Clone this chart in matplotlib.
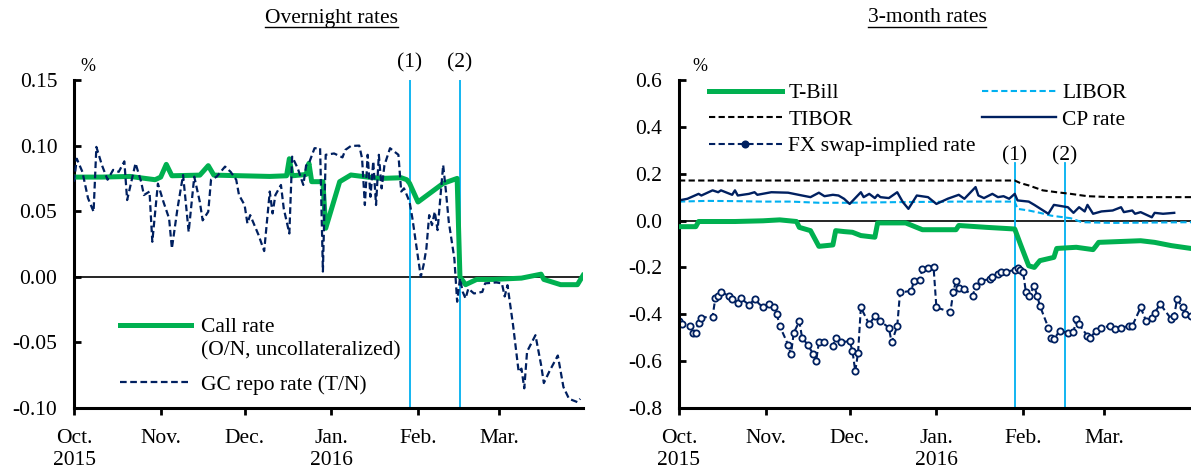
import matplotlib
matplotlib.use("Agg")
import matplotlib.pyplot as plt
from matplotlib.lines import Line2D
import pandas as pd

plt.rcParams['font.family'] = ['Liberation Serif', 'DejaVu Serif']
plt.rcParams['font.size'] = 15.5
plt.rcParams['axes.unicode_minus'] = False

base = pd.Timestamp('2015-10-01')

# ---- Overnight rates (days counted from 2015-10-01) ----
call_days = [0, 10, 20, 29, 31, 33, 35, 45, 48, 50, 60, 70, 76, 77, 78, 83, 84, 85, 89, 90,
             95, 99, 105, 110, 117, 119, 120, 123, 132, 137, 138, 140, 144, 150, 160, 167,
             168, 174, 180, 182]
call_rate = [0.076, 0.076, 0.0765, 0.074, 0.076, 0.0857, 0.077, 0.0775, 0.0847, 0.0775, 0.077,
             0.0765, 0.077, 0.090, 0.077, 0.078, 0.0865, 0.0725, 0.0725, 0.037,
             0.0725, 0.0776, 0.076, 0.075, 0.0755, 0.074, 0.0712, 0.057, 0.0712, 0.075, 0.0,
             -0.006, -0.002, -0.002, -0.001, 0.002, -0.002, -0.006, -0.006, 0.001]

gc_days = [0, 1, 3, 5, 7, 8, 10, 12, 14, 16, 18, 19, 22, 24, 25, 27, 28, 30, 32, 34, 35, 37,
           39, 41, 43, 45, 46, 48, 49, 51, 54, 56, 58, 59, 61, 62, 63, 66, 68, 70, 71, 72, 74,
           75, 77, 78, 80, 82, 83, 84, 86, 88, 89, 90, 93, 96, 97, 99, 102, 103, 104, 105, 106,
           107, 108, 109, 110, 111, 113, 116, 117, 118, 119, 120, 121, 124, 125, 126, 127, 128,
           129, 130, 132, 133, 134, 136, 137, 138, 139, 140, 141, 143, 146, 147, 151, 153, 154,
           155, 157, 159, 160, 161, 162, 165, 167, 168, 170, 173, 175, 177, 180, 181]
gc_repo = [0.0725, 0.09, 0.08, 0.06, 0.0496, 0.099, 0.085, 0.074, 0.0815, 0.08, 0.088, 0.0585,
           0.0865, 0.0725, 0.0623, 0.065, 0.0267, 0.071, 0.057, 0.0445, 0.0216, 0.052, 0.0776,
           0.0343, 0.0763, 0.057, 0.043, 0.0496, 0.074, 0.0763, 0.084, 0.08, 0.074, 0.0623,
           0.0547, 0.0407, 0.047, 0.0318, 0.0196, 0.065, 0.0483, 0.0623, 0.07, 0.052, 0.033,
           0.0916, 0.0827, 0.07, 0.085, 0.0865, 0.098, 0.098, 0.004, 0.093, 0.094, 0.091, 0.0967,
           0.0997, 0.1, 0.0903, 0.0547, 0.093, 0.061, 0.088, 0.0547, 0.093, 0.0674, 0.085, 0.098,
           0.093, 0.065, 0.0674, 0.0623, 0.057, 0.0445, 0.0, 0.009, 0.0216, 0.047, 0.0394,
           0.0496, 0.0356, 0.0852, 0.065, 0.042, 0.014, -0.019, -0.0013, -0.0115, -0.0165,
           -0.009, -0.0127, -0.0115, -0.005, -0.0043, -0.005, -0.015, -0.0064, -0.037, -0.0725,
           -0.07, -0.085, -0.057, -0.0445, -0.067, -0.081, -0.072, -0.06, -0.084, -0.093,
           -0.0955, -0.093]

# ---- 3-month rates ----
tbill_days = [0, 6, 7, 20, 30, 36, 42, 43, 47, 50, 55, 56, 59, 62, 65, 70, 71, 81, 87, 99, 100,
              110, 120, 122, 125, 127, 129, 134, 135, 142, 148, 149, 150, 165, 170, 176, 183]
tbill = [-0.026, -0.026, -0.004, -0.004, -0.001, 0.003, -0.004, -0.029, -0.043, -0.11, -0.104,
         -0.043, -0.047, -0.05, -0.064, -0.071, -0.01, -0.01, -0.039, -0.039, -0.021,
         -0.029, -0.036, -0.1, -0.193, -0.2, -0.171, -0.157, -0.119, -0.114, -0.124, -0.109,
         -0.093, -0.086, -0.093, -0.107, -0.119]

tibor_days = [0, 120, 122, 125, 130, 135, 140, 146, 155, 183]
tibor = [0.171, 0.171, 0.16, 0.15, 0.129, 0.121, 0.114, 0.104, 0.10, 0.10]

libor_days = [0, 10, 20, 30, 40, 50, 60, 80, 100, 120, 121, 125, 129, 133, 140, 144, 155, 183]
libor = [0.081, 0.084, 0.083, 0.081, 0.081, 0.076, 0.076, 0.079, 0.081, 0.081, 0.05, 0.043,
         0.033, 0.021, 0.01, -0.007, -0.01, -0.007]

cp_days = [0, 3, 7, 8, 12, 14, 15, 19, 20, 21, 25, 27, 28, 33, 39, 44, 47, 50, 52, 55, 57, 59,
           61, 65, 66, 68, 70, 71, 72, 75, 78, 80, 82, 85, 89, 92, 96, 100, 102, 106, 107, 109,
           112, 114, 116, 118, 120, 121, 125, 127, 132, 134, 139, 141, 143, 145, 146, 148, 151,
           155, 158, 159, 162, 163, 165, 169, 170, 173, 177]
cp_rate = [0.086, 0.093, 0.114, 0.107, 0.129, 0.121, 0.129, 0.11, 0.129, 0.107, 0.114, 0.121,
           0.11, 0.121, 0.119, 0.107, 0.1, 0.119, 0.104, 0.11, 0.107, 0.093, 0.071, 0.121, 0.1,
           0.114, 0.096, 0.11, 0.1, 0.096, 0.121, 0.079, 0.05, 0.107, 0.1, 0.071, 0.093, 0.11,
           0.093, 0.143, 0.107, 0.096, 0.114, 0.1, 0.104, 0.093, 0.114, 0.086, 0.081, 0.067,
           0.029, 0.067, 0.057, 0.033, 0.057, 0.039, 0.067, 0.029, 0.039, 0.043, 0.057, 0.036,
           0.043, 0.029, 0.036, 0.014, 0.033, 0.029, 0.033]

fx_days = [0, 1, 4, 5, 6, 7, 8, 12, 13, 14, 15, 18, 19, 21, 22, 25, 27, 30, 32, 34, 35, 36, 39,
           40, 41, 43, 44, 46, 48, 49, 50, 52, 55, 56, 58, 61, 62, 63, 64, 65, 68, 70, 72, 75,
           76, 78, 79, 83, 84, 86, 87, 89, 91, 92, 97, 98, 99, 100, 102, 105, 106, 108, 111,
           112, 114, 115, 117, 120, 121, 122, 123, 124, 125, 127, 128, 129, 132, 133, 134, 136,
           139, 141, 142, 143, 146, 147, 149, 151, 154, 156, 158, 161, 162, 165, 167, 169, 170,
           172, 176, 177, 178, 180, 181, 183]
fx_swap = [-0.43, -0.44, -0.45, -0.48, -0.48, -0.436, -0.414, -0.41, -0.33, -0.32, -0.307,
           -0.32, -0.336, -0.35, -0.33, -0.36, -0.336, -0.371, -0.357, -0.371, -0.4, -0.45,
           -0.53, -0.571, -0.48, -0.43, -0.5, -0.53, -0.57, -0.6, -0.52, -0.52, -0.536, -0.5,
           -0.52, -0.514, -0.557, -0.643, -0.564, -0.371, -0.443, -0.407, -0.43, -0.457, -0.52,
           -0.45, -0.307, -0.3, -0.257, -0.253, -0.207, -0.204, -0.2, -0.371, -0.39, -0.307,
           -0.257, -0.286, -0.293, -0.32, -0.28, -0.257, -0.25, -0.239, -0.229, -0.219, -0.219,
           -0.21, -0.204, -0.21, -0.22, -0.307, -0.32, -0.28, -0.32, -0.364, -0.457, -0.5,
           -0.507, -0.471, -0.479, -0.476, -0.421, -0.443, -0.493, -0.5, -0.471, -0.457, -0.45,
           -0.461, -0.457, -0.45, -0.45, -0.371, -0.43, -0.414, -0.393, -0.357, -0.421, -0.407,
           -0.336, -0.371, -0.4, -0.407]

month_ticks = ['2015-10-01', '2015-11-01', '2015-12-01', '2016-01-01', '2016-02-01', '2016-03-01']
month_labels = ['Oct.\n2015', 'Nov.', 'Dec.', 'Jan.\n2016', 'Feb.', 'Mar.']
events = ['2016-01-29', '2016-02-16']
event_labels = ['(1)', '(2)']

GREEN = '#00B050'
NAVY = '#002060'
LIGHT = '#00B0F0'


def to_dates(days):
    return base + pd.to_timedelta(days, unit='D')


def style_axis(ax, xend):
    for s in ['top', 'right']:
        ax.spines[s].set_visible(False)
    for s in ['left', 'bottom']:
        ax.spines[s].set_linewidth(2.2)
    ax.set_xlim(base, pd.Timestamp(xend))
    ax.set_xticks(pd.to_datetime(month_ticks))
    ax.set_xticklabels(month_labels, linespacing=1.25)
    ax.tick_params(axis='x', direction='out', length=5, width=2, pad=10)
    ax.tick_params(axis='y', direction='in', length=5, width=2, pad=12)


fig = plt.figure(figsize=(11.91, 4.74), dpi=100)
ax1 = fig.add_axes([74 / 1191, 66 / 474, 509 / 1191, 328 / 474])
ax2 = fig.add_axes([679 / 1191, 66 / 474, 512 / 1191, 328 / 474])

# left panel
ax1.axhline(0, color='black', lw=1.2, zorder=1)
for d in events:
    ax1.axvline(pd.Timestamp(d), color=LIGHT, lw=1.3, zorder=2)
ax1.plot(to_dates(call_days), call_rate, color=GREEN, lw=3.6, label='Call rate', zorder=3)
ax1.plot(to_dates(gc_days), gc_repo, color=NAVY, lw=1.6, ls=(0, (3, 1.6)),
         label='GC repo rate (T/N)', zorder=4)
ax1.set_ylim(-0.10, 0.15)
ax1.set_yticks([-0.10, -0.05, 0.0, 0.05, 0.10, 0.15])
ax1.yaxis.set_major_formatter(plt.FormatStrFormatter('%.2f'))
style_axis(ax1, '2016-03-31')
for d, t in zip(events, event_labels):
    ax1.text(pd.Timestamp(d), 0.1633, t, ha='center', va='center', clip_on=False)
ax1.text(0.027, 1.04, '%', transform=ax1.transAxes, ha='center', va='center', fontsize=13)
leg1 = ax1.legend(loc='lower left', bbox_to_anchor=(0.09, 0.04), frameon=False,
                  handlelength=3.3, handletextpad=0.45, labelspacing=1.75, borderpad=0,
                  borderaxespad=0)

# right panel
ax2.axhline(0, color='black', lw=1.2, zorder=1)
for d in events:
    ax2.plot([pd.Timestamp(d)] * 2, [-0.8, 0.245], color=LIGHT, lw=1.3, zorder=2)
ax2.plot(to_dates(tbill_days), tbill, color=GREEN, lw=3.6, label='T-Bill', zorder=3)
ax2.plot(to_dates(tibor_days), tibor, color='black', lw=1.5, ls=(0, (3, 1.6)), label='TIBOR')
ax2.plot(to_dates(fx_days), fx_swap, color=NAVY, lw=1.5, ls=(0, (3, 1.6)), marker='o',
         ms=4.5, mfc='white', mec=NAVY, mew=1.3, label='FX swap-implied rate')
ax2.plot(to_dates(libor_days), libor, color=LIGHT, lw=1.5, ls=(0, (3, 1.6)), label='LIBOR')
ax2.plot(to_dates(cp_days), cp_rate, color=NAVY, lw=1.7, label='CP rate')
ax2.set_ylim(-0.8, 0.6)
ax2.set_yticks([-0.8, -0.6, -0.4, -0.2, 0.0, 0.2, 0.4, 0.6])
ax2.yaxis.set_major_formatter(plt.FormatStrFormatter('%.1f'))
style_axis(ax2, '2016-04-01')
for d, t in zip(events, event_labels):
    ax2.text(pd.Timestamp(d), 0.275, t, ha='center', va='center')
ax2.text(0.041, 1.04, '%', transform=ax2.transAxes, ha='center', va='center', fontsize=13)
leg2 = ax2.legend(loc='upper left', bbox_to_anchor=(0.058, 0.99), ncol=2, frameon=False,
                  handlelength=3.4, handletextpad=0.3, labelspacing=0.3, columnspacing=0.3,
                  borderpad=0, borderaxespad=0, numpoints=1)
for h in leg2.get_lines():
    if h.get_marker() == 'o':
        h.set_markerfacecolor(NAVY)

# titles
t1 = fig.text(332 / 1191, 1 - 18 / 474, 'Overnight rates', ha='center', va='center')
t2 = fig.text(927 / 1191, 1 - 18 / 474, '3-month rates', ha='center', va='center')

fig.canvas.draw()
r = fig.canvas.get_renderer()
W, H = fig.bbox.width, fig.bbox.height
for t in (t1, t2):
    bb = t.get_window_extent(r)
    y = (bb.y0 + 1) / H
    fig.add_artist(Line2D([bb.x0 / W, bb.x1 / W], [y, y], color='black', lw=1.0))

# second line of the call rate label
bb = leg1.get_texts()[0].get_window_extent(r)
fig.text(bb.x0 / W, (bb.y0 - 23) / H, '(O/N, uncollateralized)', ha='left', va='bottom')

fig.savefig('out.png', dpi=100)
